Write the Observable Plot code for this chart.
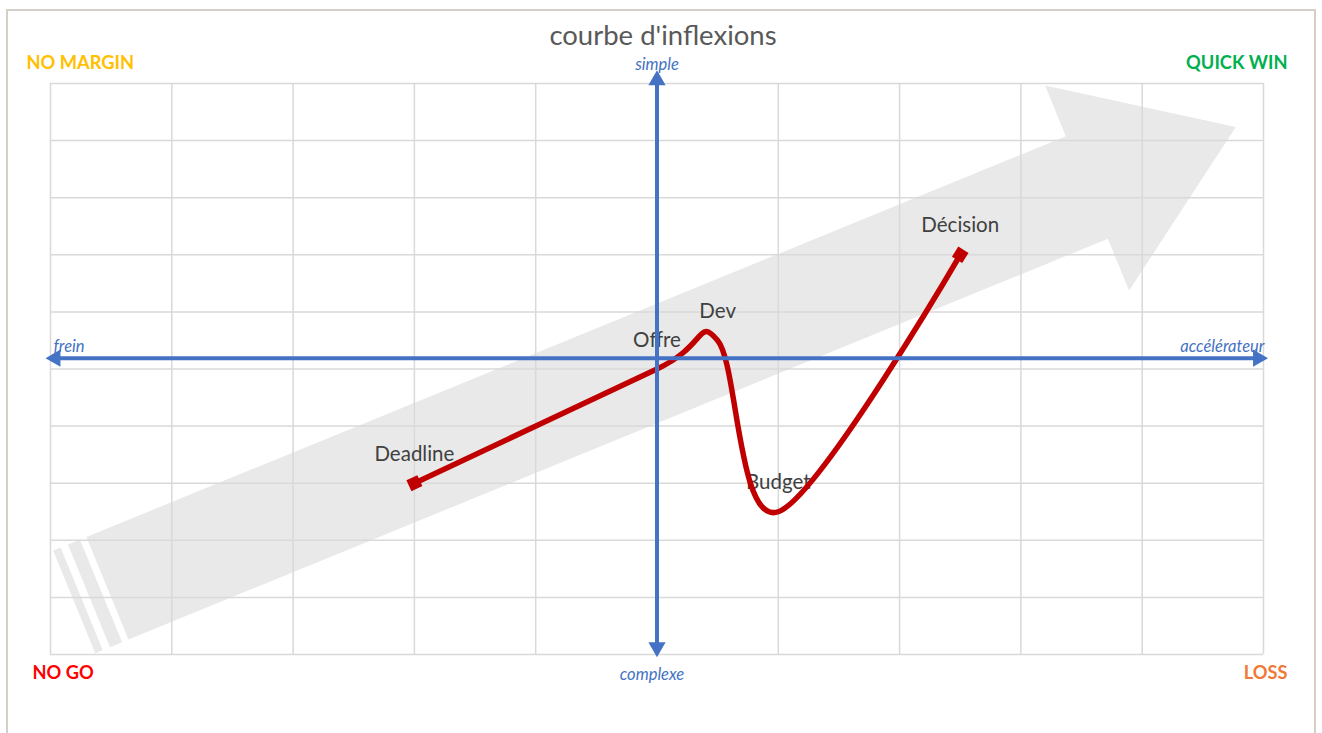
<!DOCTYPE html>
<html><head><meta charset="utf-8">
<script src="https://cdn.jsdelivr.net/npm/d3@7"></script>
<script src="https://cdn.jsdelivr.net/npm/@observablehq/plot@0.6"></script>
<style>
body{margin:0;background:#fff;}
#frame{position:absolute;left:6px;top:9px;width:1310px;height:760px;border:2px solid #d6cfc7;box-sizing:border-box;}
#chart{position:absolute;left:0;top:0;}
</style></head><body>
<div id="frame"></div><div id="chart"></div>
<script>
// chart data
const stages = ["Deadline", "Offre", "Dev", "Budget", "Décision"];
const accel = [-2, 0, 0.5, 1, 2.5];          // frein (-) ... accélérateur (+)
const simplicity = [-2, 0, 0.5, -2.5, 2];    // complexe (-) ... simple (+)
const gridTicks = [-5, -4, -3, -2, -1, 0, 1, 2, 3, 4, 5];
const title = "courbe d'inflexions";
const corners = ["NO MARGIN", "QUICK WIN", "NO GO", "LOSS"];
const axisWords = ["simple", "complexe", "frein", "accélérateur"];

// decorative striped arrow outline (data units)
const arrowBody = [[-4.704,-2.942],[3.370,4.075],[3.199,4.965],[4.772,4.236],[3.892,1.374],[3.717,2.280],[-4.357,-4.738]];
const stripe2 = [[-4.856,-3.075],[-4.757,-2.990],[-4.410,-4.785],[-4.509,-4.871]];
const stripe1 = [[-4.978,-3.180],[-4.917,-3.128],[-4.570,-4.923],[-4.631,-4.976]];

const pts = stages.map((s, i) => ({stage: s, x: accel[i], y: simplicity[i]}));
const shape = [
  ...arrowBody.map(([x, y]) => ({x, y, k: "body"})),
  ...stripe2.map(([x, y]) => ({x, y, k: "s2"})),
  ...stripe1.map(([x, y]) => ({x, y, k: "s1"}))
];
const axisY = 0.19; // drawn axis line slightly above zero, as in the original
const ends = [pts[0], pts[pts.length - 1]];

const font = "Lato, 'Open Sans', sans-serif";
const blue = "#4472C4";
const italicStyle = {fontSize: 16.5, fontStyle: "italic", fill: blue, letterSpacing: "1.3px"};

const chart = Plot.plot({
  width: 1322, height: 733,
  marginLeft: 50, marginRight: 59, marginTop: 83, marginBottom: 79,
  x: {domain: [-5, 5], axis: null},
  y: {domain: [-5, 5], axis: null},
  style: {fontFamily: font, background: "transparent"},
  marks: [
    Plot.line(shape, {x: "x", y: "y", z: "k", fill: "#e9e9e9", stroke: "none"}),
    Plot.gridX(gridTicks, {stroke: "#d9d9d9", strokeOpacity: 1, strokeWidth: 1.5}),
    Plot.gridY(gridTicks, {stroke: "#d9d9d9", strokeOpacity: 1, strokeWidth: 1.5}),
    Plot.text(pts, {x: "x", y: "y", text: "stage", dy: -29, fontSize: 20.5, fill: "#404040", textAnchor: "middle"}),
    Plot.line(pts, {x: "x", y: "y", curve: "cardinal", stroke: "#C00000", strokeWidth: 5.5}),
    Plot.dot(ends, {x: "x", y: "y", symbol: "square", r: 6.8, fill: "#C00000", stroke: "none", rotate: (d, i) => i === 0 ? -25 : -58}),
    // drawn axes
    Plot.ruleY([axisY], {x1: -4.96, x2: 4.955, stroke: blue, strokeWidth: 4}),
    Plot.ruleX([0], {y1: -4.87, y2: 5.06, stroke: blue, strokeWidth: 4}),
    Plot.dot([{x: -4.959, y: axisY, r: -90}, {x: 4.955, y: axisY, r: 90}, {x: 0, y: 5.058, r: 0}, {x: 0, y: -4.872, r: 180}],
      {x: "x", y: "y", symbol: "triangle", r: 6.4, fill: blue, stroke: "none", rotate: "r"}),
    // axis words
    Plot.text([axisWords[0]], {x: 0, frameAnchor: "top", lineAnchor: "middle", dy: -19, text: d => d, ...italicStyle}),
    Plot.text([axisWords[1]], {x: 0, frameAnchor: "bottom", lineAnchor: "middle", dx: -5, dy: 20, text: d => d, ...italicStyle}),
    Plot.text([axisWords[2]], {y: axisY, frameAnchor: "left", textAnchor: "start", lineAnchor: "middle", dx: 3, dy: -11, text: d => d, ...italicStyle}),
    Plot.text([axisWords[3]], {y: axisY, frameAnchor: "right", textAnchor: "end", lineAnchor: "middle", dx: 1, dy: -11, text: d => d, ...italicStyle}),
    // title
    Plot.text([title], {frameAnchor: "top", lineAnchor: "middle", dx: 6, dy: -47, text: d => d, fontSize: 27.5, fill: "#595959"}),
    // corner labels
    Plot.text([corners[0]], {frameAnchor: "top-left", textAnchor: "start", lineAnchor: "middle", dx: -24, dy: -20, text: d => d, fontSize: 18.3, fontWeight: "bold", fill: "#FFC000"}),
    Plot.text([corners[1]], {frameAnchor: "top-right", textAnchor: "end", lineAnchor: "middle", dx: 24, dy: -20, text: d => d, fontSize: 18.3, fontWeight: "bold", fill: "#00B050"}),
    Plot.text([corners[2]], {frameAnchor: "bottom-left", textAnchor: "start", lineAnchor: "middle", dx: -18, dy: 19, text: d => d, fontSize: 18.3, fontWeight: "bold", fill: "#FF0000"}),
    Plot.text([corners[3]], {frameAnchor: "bottom-right", textAnchor: "end", lineAnchor: "middle", dx: 24, dy: 19, text: d => d, fontSize: 18.3, fontWeight: "bold", fill: "#F07A35"})
  ]
});
document.getElementById("chart").append(chart);
</script>
</body></html>
